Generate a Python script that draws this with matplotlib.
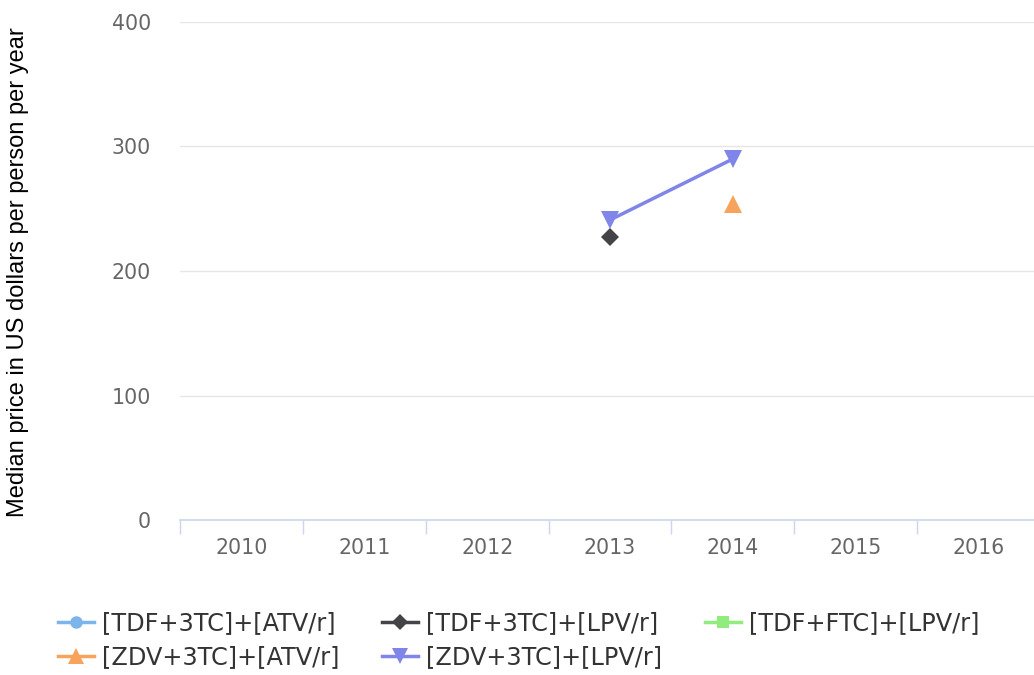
import numpy as np
import matplotlib.pyplot as plt
from matplotlib.lines import Line2D

years = ['2010', '2011', '2012', '2013', '2014', '2015', '2016']
nan = np.nan

series_names = ['[TDF+3TC]+[ATV/r]', '[TDF+3TC]+[LPV/r]', '[TDF+FTC]+[LPV/r]',
                '[ZDV+3TC]+[ATV/r]', '[ZDV+3TC]+[LPV/r]']
tdf_3tc_atv = [nan, nan, nan, nan, nan, nan, nan]
tdf_3tc_lpv = [nan, nan, nan, 227, nan, nan, nan]
tdf_ftc_lpv = [nan, nan, nan, nan, nan, nan, nan]
zdv_3tc_atv = [nan, nan, nan, nan, 254, nan, nan]
zdv_3tc_lpv = [nan, nan, nan, 241, 290, nan, nan]

colors = ['#7cb5ec', '#434348', '#90ed7d', '#f7a35c', '#8085e9']
markers = ['o', 'D', 's', '^', 'v']
msizes = [10, 9, 9, 13, 13]

fig = plt.figure(figsize=(10.34, 6.75), dpi=100)
ax = fig.add_axes([180 / 1034, 155 / 675, 860 / 1034, 498 / 675])

x = np.arange(len(years))
all_series = [tdf_3tc_atv, tdf_3tc_lpv, tdf_ftc_lpv, zdv_3tc_atv, zdv_3tc_lpv]
for vals, c, m, ms in zip(all_series, colors, markers, msizes):
    ax.plot(x, vals, color=c, marker=m, markersize=ms, linewidth=2.5,
            markeredgewidth=0, zorder=3)

ax.set_xlim(-0.5, 6.5)
ax.set_ylim(0, 400)
ax.set_yticks([0, 100, 200, 300, 400])
ax.set_yticklabels(['0', '100', '200', '300', '400'], fontfamily='DejaVu Sans',
                   fontsize=14.8, color='#666666')
ax.tick_params(axis='y', length=0, pad=21)
ax.yaxis.grid(True, color='#e6e6e6', linewidth=1)
ax.set_axisbelow(True)

ax.set_xticks(np.arange(-0.5, 7.0, 1.0))
ax.set_xticklabels([])
ax.set_xticks(x, minor=True)
ax.set_xticklabels(years, minor=True, fontfamily='DejaVu Sans', fontsize=14.8,
                   color='#666666')
ax.tick_params(axis='x', which='major', length=10, color='#ccd6eb', width=1)
ax.tick_params(axis='x', which='minor', length=0, pad=13)

for s in ['top', 'right', 'left']:
    ax.spines[s].set_visible(False)
ax.spines['bottom'].set_color('#ccd6eb')
ax.spines['bottom'].set_linewidth(1.2)

fig.text(18 / 1034, 1 - 272 / 675, 'Median price in US dollars per person per year',
         rotation=90, ha='center', va='center', fontsize=17,
         fontfamily='Liberation Sans', color='black')

handles = [Line2D([], [], color=c, marker=m, markersize=ms * 0.9, linewidth=2.5,
                  markeredgewidth=0)
           for c, m, ms in zip(colors, markers, msizes)]
order = [0, 3, 1, 4, 2]
leg = fig.legend([handles[i] for i in order], [series_names[i] for i in order],
                 ncol=3, loc='center left', bbox_to_anchor=(58 / 1034, 1 - 640 / 675),
                 frameon=False, borderpad=0, borderaxespad=0,
                 prop={'family': 'DejaVu Sans', 'size': 17.3}, handlelength=1.5,
                 handletextpad=0.33, columnspacing=1.78, labelspacing=0.42)
for t in leg.get_texts():
    t.set_color('#333333')

fig.savefig('out.png', dpi=100)
